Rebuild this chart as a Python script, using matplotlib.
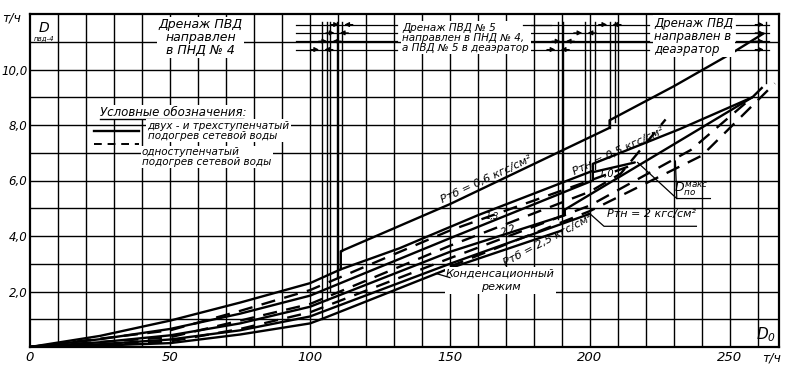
import matplotlib.pyplot as plt
import numpy as np

# --- curve data (D_0, t/h  ->  D_pvd-4, t/h) ---
# solid curves: two- and three-stage heating of network water
a_x = [0, 25, 50, 75, 100, 111, 111, 150, 207, 207, 230, 250, 262]
a_y = [0, 0.4, 0.95, 1.6, 2.3, 2.8, 3.45, 5.15, 7.9, 8.17, 9.4, 10.55, 11.3]

b_x = [111, 132, 160, 201, 201, 232, 258]
b_y = [2.8, 3.56, 4.75, 6.35, 6.6, 7.85, 9.0]

c_x = [0, 25, 50, 75, 100, 150, 201, 201, 216]
c_y = [0, 0.28, 0.65, 1.2, 1.85, 3.92, 6.0, 6.3, 6.65]

d_x = [0, 25, 50, 75, 100, 150, 191, 191, 258]
d_y = [0, 0.17, 0.42, 0.85, 1.45, 3.43, 4.75, 4.95, 9.0]

e_x = [0, 25, 50, 75, 100, 150, 200]
e_y = [0, 0.1, 0.27, 0.6, 1.1, 3.0, 4.8]

f_x = [0, 25, 50, 75, 100, 104, 150, 190]
f_y = [0, 0.05, 0.14, 0.45, 0.85, 1.0, 2.84, 4.2]

# dashed curves: single-stage heating
g_x = [0, 25, 50, 75, 100, 150, 200, 215]
g_y = [0, 0.3, 0.6, 1.3, 2.05, 4.2, 6.0, 6.55]

h_x = [0, 25, 50, 75, 100, 150, 200, 211, 227]
h_y = [0, 0.18, 0.35, 0.95, 1.55, 3.65, 5.6, 6.25, 8.2]

k_x = [0, 25, 50, 75, 100, 150, 200, 236, 258, 263]
k_y = [0, 0.08, 0.2, 0.65, 1.25, 3.2, 5.1, 7.1, 9.0, 9.5]

m_x = [150, 200, 240, 266]
m_y = [2.9, 4.9, 6.9, 9.5]

# switch lines (vertical) and top arrow rows
sw_x = [104.2, 106.2, 107.1, 109.7, 111.3, 188.6, 190.4, 198.2, 201.8, 207.1, 208.9]
sw_y0 = [1.0, 1.7, 2.0, 2.5, 3.45, 4.6, 4.8, 5.9, 6.4, 7.9, 8.1]
row_y = [11.62, 11.32, 11.02, 10.72]
row_left = [111.3, 109.7, 107.1, 104.2]
row_mid = [207.1, 198.2, 190.4, 188.6]

x_ticks = [0, 50, 100, 150, 200, 250]
y_ticks = [2, 4, 6, 8, 10]
y_labels = ['2,0', '4,0', '6,0', '8,0', '10,0']

plt.rcParams['font.family'] = ['DejaVu Sans']
plt.rcParams['font.style'] = 'italic'

fig = plt.figure(figsize=(7.88, 3.70), dpi=100)
ax = fig.add_axes([30/788, 23/370, 749/788, 333/370])
ax.set_xlim(0, 267.5)
ax.set_ylim(0, 12)

# grid
for gx in np.arange(10, 267, 10):
  ax.axvline(gx, color='black', lw=1.0, zorder=1)
for gy in np.arange(1, 12, 1):
  ax.axhline(gy, color='black', lw=1.0, zorder=1)
for s in ax.spines.values():
  s.set_linewidth(1.6)

kw = dict(color='black', lw=1.7, zorder=3, solid_capstyle='round')
for xs, ys in [(a_x, a_y), (b_x, b_y), (c_x, c_y), (d_x, d_y), (e_x, e_y), (f_x, f_y)]:
  ax.plot(xs, ys, **kw)
for xs, ys in [(g_x, g_y), (h_x, h_y), (k_x, k_y), (m_x, m_y)]:
  ax.plot(xs, ys, ls=(0, (6, 4)), **kw)

for xv, y0 in zip(sw_x, sw_y0):
  ax.plot([xv, xv], [y0, 11.7], color='black', lw=1.0, zorder=2)
ax.plot([263, 263], [9.5, 11.7], color='black', lw=1.0, zorder=2)

arw = dict(arrowstyle='-|>', color='black', lw=0.8, mutation_scale=7)
for ry, xl, xm in zip(row_y, row_left, row_mid):
  ax.plot([95, 131], [ry, ry], color='black', lw=0.9, zorder=2)
  ax.plot([175, 221], [ry, ry], color='black', lw=0.9, zorder=2)
  ax.plot([252, 264], [ry, ry], color='black', lw=0.9, zorder=2)
  for xv in (xl, xm):
    ax.annotate('', xy=(xv, ry), xytext=(xv - 5, ry), arrowprops=arw, zorder=4)
    ax.annotate('', xy=(xv, ry), xytext=(xv + 5, ry), arrowprops=arw, zorder=4)
  ax.annotate('', xy=(263, ry), xytext=(258, ry), arrowprops=arw, zorder=4)

# ticks
ax.set_xticks(x_ticks)
ax.set_xticklabels([str(v) for v in x_ticks], fontsize=9.5)
ax.set_yticks(y_ticks)
ax.set_yticklabels(y_labels, fontsize=8.5)
ax.tick_params(axis='x', length=0, pad=3)
ax.tick_params(axis='y', length=0, pad=2)
fig.text(12/788, 1 - 18/370, 'т/ч', fontsize=9, ha='center', va='center')
fig.text(772/788, 1 - 358/370, 'т/ч', fontsize=9, ha='center', va='center')
ax.text(263, 0.45, '$D_0$', fontsize=11, ha='center', va='center', zorder=5)
ax.text(5, 11.5, '$D$', fontsize=10, ha='center', va='center', zorder=5)
ax.text(5, 11.15, 'пвд-4', fontsize=5, ha='center', va='center', zorder=5)

wb = dict(facecolor='white', edgecolor='none', pad=1)
ax.text(61, 11.15, 'Дренаж ПВД\nнаправлен\nв ПНД № 4', fontsize=9, ha='center',
        va='center', linespacing=1.0, bbox=wb, zorder=5)
ax.text(133, 11.15, 'Дренаж ПВД № 5\nнаправлен в ПНД № 4,\nа ПВД № 5 в деаэратор',
        fontsize=7.5, ha='left', va='center', linespacing=1.0, bbox=wb, zorder=5)
ax.plot([176, 186], [11.62, 11.62], color='black', lw=0.9, zorder=6)
ax.text(223, 11.2, 'Дренаж ПВД\nнаправлен в\nдеаэратор', fontsize=8.5, ha='left',
        va='center', linespacing=1.0, bbox=wb, zorder=5)

# legend block
ax.text(25, 8.45, 'Условные обозначения:', fontsize=8.5, ha='left', va='center',
        bbox=wb, zorder=5)
ax.plot([25, 76], [8.2, 8.2], color='black', lw=1.0, zorder=5)
ax.plot([23, 39], [7.8, 7.8], color='black', lw=1.7, zorder=5)
ax.plot([23, 39], [7.3, 7.3], color='black', lw=1.4, ls=(0, (4, 3)), zorder=5)
ax.text(42, 7.8, 'двух - и трехступенчатый\nподогрев сетевой воды', fontsize=7.5,
        ha='left', va='center', linespacing=1.0, bbox=wb, zorder=5)
ax.text(40, 6.85, 'одноступенчатый\nподогрев сетевой воды', fontsize=7.5,
        ha='left', va='center', linespacing=1.0, bbox=wb, zorder=5)

# curve labels
ax.text(163, 6.05, 'Pтб = 0,6 кгс/см²', fontsize=8, rotation=25, ha='center',
        va='center', zorder=5)
ax.text(210, 7.05, 'Pтн = 0,5 кгс/см²', fontsize=8, rotation=25, ha='center',
        va='center', zorder=5)
ax.text(206, 6.25, '1,0', fontsize=7, ha='center', va='center', zorder=5)
ax.text(165, 4.7, '1,3', fontsize=6, ha='center', va='center', zorder=5)
ax.text(171, 4.2, '2,2', fontsize=7, rotation=20, ha='center', va='center', zorder=5)
ax.text(185, 3.85, 'Pтб = 2,5 кгс/см²', fontsize=8, rotation=28, ha='center',
        va='center', zorder=5)
ax.text(222, 4.8, 'Pтн = 2 кгс/см²', fontsize=8, ha='center', va='center', zorder=5)
ax.plot([200, 205, 238], [4.8, 4.35, 4.35], color='black', lw=0.9, zorder=5)
ax.text(168, 2.4, 'Конденсационный\nрежим', fontsize=8, ha='center', va='center',
        linespacing=1.5, bbox=wb, zorder=5)
ax.plot([145, 150], [2.65, 2.5], color='black', lw=0.9, zorder=5)
ax.text(236, 5.7, '$D_{по}^{макс}$', fontsize=9, ha='center', va='center', zorder=5)
ax.plot([217, 231, 243], [6.65, 5.35, 5.35], color='black', lw=0.9, zorder=5)
ax.plot([230.5, 231], [6.7, 5.35], color='black', lw=0.9, zorder=5)

fig.savefig('out.png', dpi=100)
